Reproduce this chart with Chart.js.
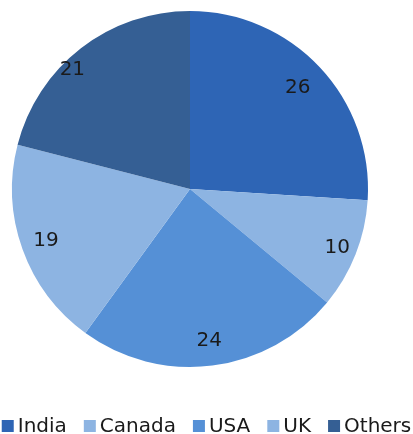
<!DOCTYPE html>
<html>
<head>
<meta charset="utf-8">
<script src="https://cdn.jsdelivr.net/npm/chart.js@4/dist/chart.umd.min.js"></script>
<style>
  html, body { margin: 0; padding: 0; background: #fff; }
  #wrap { width: 413px; height: 434px; position: relative; }
</style>
</head>
<body>
<div id="wrap"><canvas id="chart"></canvas></div>
<script>
const countries = ['India', 'Canada', 'USA', 'UK', 'Others'];
const shares = [26, 10, 24, 19, 21];

const COLORS = [
    '#2e65b5', // India
    '#8db4e2', // Canada
    '#5590d6', // USA
    '#8db4e2', // UK
    '#355f94', // Others
];

const FONT = '20px "DejaVu Sans", sans-serif';
const TEXT = '#1a1a1a';

// label placement: share of the radius, and a small turn (radians) off the slice middle
const LABEL_RADIUS = [0.83, 0.89, 0.86, 0.86, 0.94];
const LABEL_TURN = [0, 0, 0, 0, -0.12];

const sliceLabels = {
    id: 'sliceLabels',
    afterDatasetsDraw(chart) {
        const { ctx } = chart;
        const meta = chart.getDatasetMeta(0);
        ctx.save();
        ctx.font = FONT;
        ctx.fillStyle = TEXT;
        ctx.textAlign = 'center';
        ctx.textBaseline = 'middle';
        meta.data.forEach((arc, i) => {
            const { x, y, startAngle, endAngle, outerRadius } = arc.getProps(['x', 'y', 'startAngle', 'endAngle', 'outerRadius'], true);
            const mid = (startAngle + endAngle) / 2 + LABEL_TURN[i];
            const r = outerRadius * LABEL_RADIUS[i];
            ctx.fillText(String(shares[i]), x + Math.cos(mid) * r, y + Math.sin(mid) * r);
        });
        ctx.restore();
    },
};

// single-row legend along the bottom edge, tight box/text spacing
const bottomLegend = {
    id: 'bottomLegend',
    afterDraw(chart) {
        const { ctx, width, height } = chart;
        const box = 12, gapIn = 4, gapOut = 17;
        ctx.save();
        ctx.font = FONT;
        const widths = countries.map(c => ctx.measureText(c).width);
        const total = widths.reduce((s, w) => s + box + gapIn + w, 0) + gapOut * (countries.length - 1);
        let x = (width - total) / 2;
        const baseline = height - 2;
        ctx.textBaseline = 'alphabetic';
        countries.forEach((c, i) => {
            ctx.fillStyle = COLORS[i];
            ctx.fillRect(x, baseline - box, box, box);
            x += box + gapIn;
            ctx.fillStyle = TEXT;
            ctx.fillText(c, x, baseline);
            x += widths[i] + gapOut;
        });
        ctx.restore();
    },
};

new Chart(document.getElementById('chart'), {
    type: 'pie',
    data: {
        labels: countries,
        datasets: [{
            data: shares,
            backgroundColor: COLORS,
            borderWidth: 0,
        }],
    },
    options: {
        responsive: true,
        maintainAspectRatio: false,
        animation: false,
        layout: {
            padding: { left: 12, right: 45, top: 11, bottom: 67 },
        },
        plugins: {
            legend: { display: false },
            tooltip: { enabled: false },
        },
    },
    plugins: [sliceLabels, bottomLegend],
});
</script>
</body>
</html>
